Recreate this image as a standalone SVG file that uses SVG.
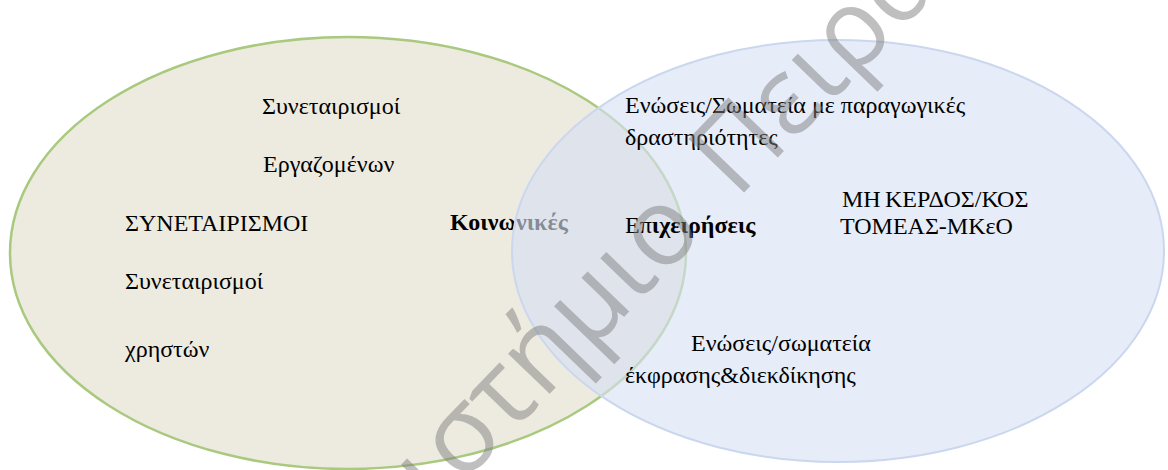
<svg xmlns="http://www.w3.org/2000/svg" width="1168" height="470" viewBox="0 0 1168 470">
<style>
.t{font-family:"Liberation Serif","Times New Roman",serif;font-size:24px;fill:#000}
.b{font-weight:bold}
.wm{font-family:"Open Sans","DejaVu Sans",sans-serif;font-size:108px;fill:#808080;fill-opacity:0.5}
</style>
<rect width="1168" height="470" fill="#fff"/>
<g id="left-set">
<ellipse cx="348" cy="253" rx="338" ry="216" fill="#EDEBE0" stroke="#A9C97F" stroke-width="2.5"/>
<text class="t" x="262" y="114">Συνεταιρισμοί</text>
<text class="t" x="263" y="172">Εργαζομένων</text>
<text class="t" x="125" y="231">ΣΥΝΕΤΑΙΡΙΣΜΟΙ</text>
<text class="t" x="125" y="289">Συνεταιρισμοί</text>
<text class="t" x="125" y="357">χρηστών</text>
<text class="t b" x="450" y="230">Κοινωνικές</text>
</g>
<g id="right-set">
<ellipse cx="838" cy="251" rx="326" ry="211" fill="#D6E1F3" fill-opacity="0.62" stroke="#CAD7EE" stroke-width="2"/>
<text class="t" x="625" y="113">Ενώσεις/Σωματεία με παραγωγικές</text>
<text class="t" x="625" y="145">δραστηριότητες</text>
<text class="t" x="625" y="233">Επ<tspan class="b">ιχειρήσεις</tspan></text>
<text class="t" x="842" y="207">ΜΗ <tspan x="885">ΚΕΡΔΟΣ/ΚΟΣ</tspan></text>
<text class="t" x="840" y="234">ΤΟΜΕΑΣ-ΜΚεΟ</text>
<text class="t" x="691" y="351">Ενώσεις/σωματεία</text>
<text class="t" x="625" y="383">έκφρασης&amp;διεκδίκησης</text>
</g>
<g id="watermark" transform="translate(716,221.7) rotate(-46)">
<text class="wm" x="-14" text-anchor="end">Πανεπιστήμιο</text>
<text class="wm" x="30">Πειραιώς</text>
</g>
</svg>
